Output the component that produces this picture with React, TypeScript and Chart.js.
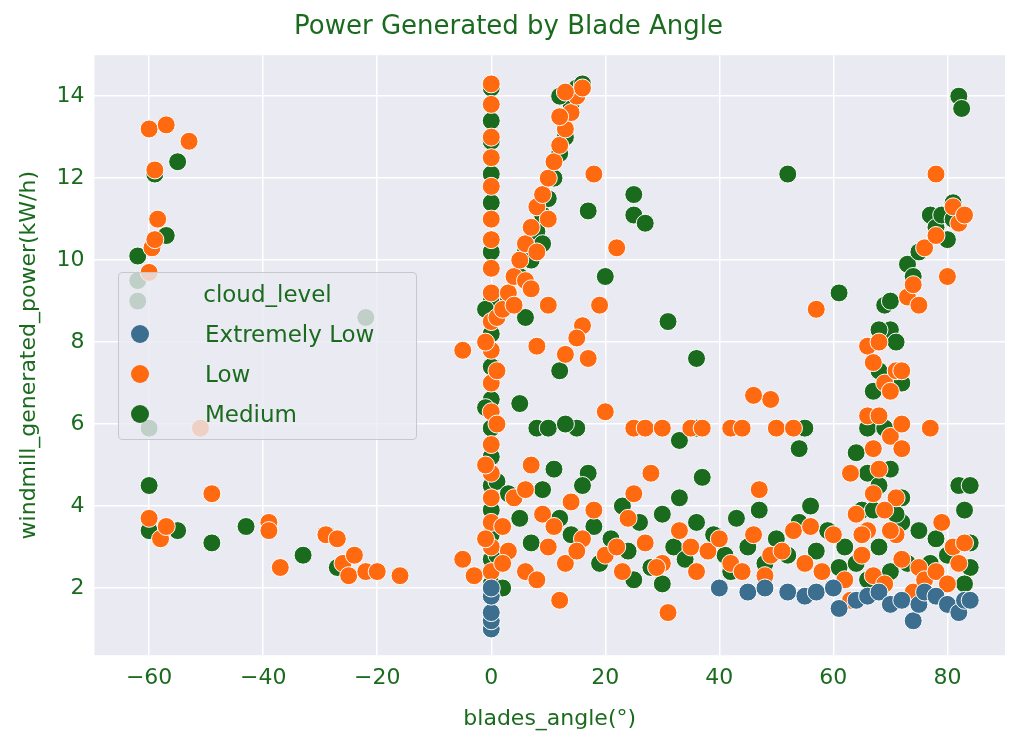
import React, { useEffect, useRef } from "react";
import { Chart, registerables } from "chart.js";
Chart.register(...registerables);

const seriesNames = ["Extremely Low", "Low", "Medium"];
const seriesColors = ["#3b6e8f", "#ff6a10", "#1b6b1f"];
const xTicks = [-60, -40, -20, 0, 20, 40, 60, 80];
const yTicks = [2, 4, 6, 8, 10, 12, 14];

const extremelyLow: number[][] = [[0,1.0],[0,1.2],[0,1.4],[0,1.8],[0,2.0],[40,2.0],[45,1.9],[48,2.0],[52,1.9],[55,1.8],[57,1.9],[60,2.0],[61,1.5],[64,1.7],[66,1.8],[68,1.9],[70,1.6],[72,1.7],[74,1.2],[75,1.6],[76,1.9],[78,1.8],[80,1.6],[82,1.4],[83,1.7],[84,1.7]];

const low: number[][] = [[-60,9.7],[-59.5,10.3],[-59,10.5],[-58.5,11.0],[-59,12.2],[-60,13.2],[-57,13.3],[-53,12.9],[-60,3.7],[-58,3.2],[-57,3.5],[-49,4.3],[-39,3.6],[-39,3.4],[-37,2.5],[-29,3.3],[-27,3.2],[-26,2.6],[-25,2.3],[-24,2.8],[-22,2.4],[-20,2.4],[-16,2.3],[-51,5.9],[-5,7.8],[-5,2.7],[-3,2.3],
[0,14.3],[0,13.8],[0,13.0],[0,12.5],[0,11.8],[0,11.0],[0,10.5],[0,9.8],[0,9.2],[0,8.5],[0,7.8],[0,7.0],[0,6.3],[0,5.5],[0,4.8],[0,4.2],[0,3.6],[0,3.0],[0,2.4],[-1,8.0],[-1,5.0],[1,8.6],[1,7.3],[1,6.0],[-1,3.2],
[2,8.8],[3,9.2],[4,9.6],[5,10.0],[6,10.4],[7,10.8],[8,11.3],[9,11.6],[10,12.0],[11,12.4],[12,12.8],[13,13.2],[14,13.6],[15,14.0],[16,14.2],[13,14.1],[12,13.5],[10,11.0],[8,10.2],[6,9.5],[4,8.9],[7,9.3],
[18,12.1],[22,10.3],[19,8.9],[17,7.6],[13,7.7],[8,7.9],[10,8.9],[20,6.3],[25,5.9],[27,5.9],[30,5.9],[35,5.9],[37,5.9],[42,5.9],[44,5.9],[49,6.6],[46,6.7],[50,5.9],[53,5.9],[57,8.8],[16,8.4],[15,8.1],[7,5.0],[2,3.5],[4,4.2],[6,4.4],[9,3.8],[11,3.5],[14,4.1],[16,3.2],[18,3.9],[20,2.8],[22,3.0],[24,3.7],[25,4.3],[27,3.1],[28,4.8],[30,2.6],[31,1.4],[33,3.4],[35,3.0],[38,2.9],[40,3.2],[42,2.6],[44,2.4],[46,3.3],[47,4.4],[49,2.8],[51,2.9],[53,3.4],[55,2.6],[56,3.5],[58,2.4],[60,3.3],[62,2.2],[63,1.7],[65,2.8],[66,3.4],[67,2.3],[69,2.1],[71,3.3],[72,2.7],[74,1.9],[75,2.5],[76,2.2],[78,2.4],[79,3.6],[80,2.1],[81,3.0],[82,2.6],[83,3.1],[12,1.7],[6,2.4],[3,2.9],[23,2.4],[29,2.5],[36,2.4],[48,2.3],[13,2.6],[15,2.9],[10,3.0],[2,2.6],[8,2.2],
[66,7.9],[67,7.5],[68,8.0],[69,7.0],[70,6.8],[71,7.3],[72,7.3],[66,6.2],[67,5.4],[68,4.9],[70,5.7],[71,4.2],[72,5.4],[69,3.9],[67,4.3],[68,6.2],[72,6.0],[70,3.4],[73,9.1],[74,9.4],[75,8.9],[76,10.3],[78,10.6],[80,9.6],[81,11.3],[82,10.9],[83,11.1],[78,12.1],[77,5.9],[64,3.8],[63,4.8],[65,3.3]];

const medium: number[][] = [[-62,10.1],[-59,12.1],[-55,12.4],[-57,10.6],[-60,4.5],[-60,3.4],[-55,3.4],[-49,3.1],[-43,3.5],[-33,2.8],[-29,3.3],[-27,2.5],[-22,8.6],[-3,2.3],[-60,5.9],[-62,9.5],[-62,9.0],
[0,14.2],[0,13.4],[0,12.9],[0,12.1],[0,11.4],[0,10.2],[0,9.0],[0,8.2],[0,7.4],[0,6.6],[0,5.9],[0,5.2],[0,4.5],[0,3.9],[0,3.3],[0,2.7],[0,2.1],[-1,6.4],[-1,8.8],[1,4.6],[1,2.8],
[3,9.0],[5,9.6],[6,10.2],[8,10.7],[9,11.1],[10,11.5],[11,12.0],[12,12.6],[13,13.0],[14,13.8],[15,14.2],[16,14.3],[12,14.0],[7,10.0],[9,10.4],[6,8.6],[17,11.2],[25,11.6],[25,11.1],[27,10.9],[20,9.6],[31,8.5],[36,7.6],[52,12.1],[61,9.2],[12,7.3],[5,6.5],
[8,5.9],[10,5.9],[15,5.9],[17,4.8],[13,6.0],[33,5.6],[36,5.9],[54,5.4],[55,5.9],[3,4.3],[5,3.7],[7,3.1],[9,4.4],[11,4.9],[12,3.7],[14,3.3],[16,4.5],[18,3.5],[19,2.6],[21,3.2],[23,4.0],[24,2.9],[26,3.6],[28,2.5],[30,3.8],[32,3.0],[33,4.2],[34,2.7],[36,3.6],[37,4.7],[39,3.3],[41,2.8],[43,3.7],[45,3.0],[47,3.9],[48,2.6],[50,3.2],[52,2.8],[54,3.6],[56,4.0],[57,2.9],[59,3.4],[61,2.5],[62,3.0],[64,2.6],[65,3.9],[66,2.2],[68,3.0],[70,2.4],[72,3.6],[73,2.6],[75,3.4],[77,2.6],[78,3.2],[80,2.8],[82,4.5],[83,3.9],[84,3.1],[84,2.5],[84,4.5],[83,2.1],[25,2.2],[30,2.1],[42,2.4],[60,2.0],[2,2.0],
[66,5.9],[67,6.8],[68,7.3],[69,8.9],[70,8.3],[71,8.0],[72,7.0],[66,4.8],[67,3.9],[68,4.5],[69,5.9],[70,4.9],[71,3.8],[72,4.2],[68,8.3],[70,9.0],[73,9.9],[75,10.2],[77,11.1],[78,10.8],[79,11.1],[80,10.5],[81,11.4],[82,14.0],[82.5,13.7],[81,11.0],[74,9.6],[64,5.3]];

const allSeries = [extremelyLow, low, medium];
const GREEN = "#1b6b1f";
const FONT = "DejaVu Sans";

const bgPlugin = {
  id: "plotBg",
  beforeDraw(chart: any) {
    const { ctx, chartArea: a } = chart;
    ctx.save();
    ctx.fillStyle = "#eaeaf2";
    ctx.fillRect(a.left, a.top, a.right - a.left, a.bottom - a.top);
    ctx.restore();
  },
};

export default function App() {
  const ref = useRef<HTMLCanvasElement>(null);
  useEffect(() => {
    const chart = new Chart(ref.current!, {
      type: "scatter",
      data: {
        datasets: allSeries.map((s, i) => ({
          label: seriesNames[i],
          data: s.map(([x, y]) => ({ x, y })),
          backgroundColor: seriesColors[i],
          borderColor: "#ffffff",
          borderWidth: 1,
          pointRadius: 9,
        })),
      },
      options: {
        animation: false,
        responsive: false,
        layout: { padding: { top: 6, right: 30, bottom: 14, left: 12 } },
        plugins: {
          legend: { display: false },
          tooltip: { enabled: false },
          title: {
            display: true,
            text: "Power Generated by Blade Angle",
            color: GREEN,
            font: { family: FONT, size: 26, weight: "normal" },
            padding: { top: 6, bottom: 12 },
          },
        },
        scales: {
          x: {
            type: "linear",
            min: -69.6,
            max: 90.1,
            afterBuildTicks: (ax: any) => { ax.ticks = xTicks.map((v) => ({ value: v })); },
            ticks: { color: GREEN, font: { family: FONT, size: 22 }, padding: 10, callback: (v: any) => String(v).replace("-", "\u2212") },
            grid: { color: "#ffffff", lineWidth: 1.5, drawTicks: false },
            border: { display: false },
            title: { display: true, text: "blades_angle(°)", color: GREEN, font: { family: FONT, size: 22 } },
          },
          y: {
            type: "linear",
            min: 0.36,
            max: 15.0,
            afterBuildTicks: (ax: any) => { ax.ticks = yTicks.map((v) => ({ value: v })); },
            ticks: { color: GREEN, font: { family: FONT, size: 22 }, padding: 10 },
            grid: { color: "#ffffff", lineWidth: 1.5, drawTicks: false },
            border: { display: false },
            title: { display: true, text: "windmill_generated_power(kW/h)", color: GREEN, font: { family: FONT, size: 22 } },
          },
        },
      },
      plugins: [bgPlugin],
    } as any);
    return () => chart.destroy();
  }, []);

  return (
    <div style={{ position: "absolute", left: 0, top: 0, width: 1035, height: 750, background: "#fff", fontFamily: FONT }}>
      <canvas ref={ref} width={1035} height={750} style={{ width: 1035, height: 750 }} />
      <div style={{ position: "absolute", left: 118, top: 272, width: 297, height: 166, background: "rgba(234,234,242,0.8)", border: "1px solid #c8c8cc", borderRadius: 4, color: GREEN, fontSize: 23 }}>
        <div style={{ position: "absolute", top: 8, left: 0, width: "100%", textAlign: "center" }}>cloud_level</div>
        {seriesNames.map((n, i) => (
          <div key={n} style={{ position: "absolute", left: 12, top: 48 + i * 40, display: "flex", alignItems: "center" }}>
            <span style={{ display: "inline-block", width: 18, height: 18, borderRadius: 9, background: seriesColors[i], marginRight: 56 }} />
            <span>{n}</span>
          </div>
        ))}
      </div>
    </div>
  );
}
